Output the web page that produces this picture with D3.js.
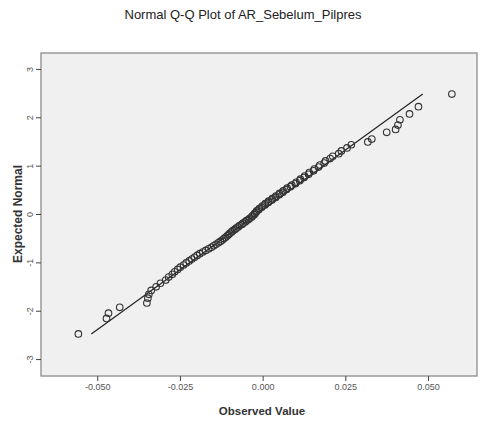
<!DOCTYPE html>
<html>
<head>
<meta charset="utf-8">
<script src="https://cdn.jsdelivr.net/npm/d3@7"></script>
<style>
  body { margin: 0; background: #fff; }
  svg { display: block; font-family: Arial, "Liberation Sans", sans-serif; }
</style>
</head>
<body>
<div id="chart"></div>
<script>
const observed = [
  -0.0557, -0.0472, -0.0466, -0.0432, -0.0350, -0.0347, -0.0344, -0.0337,
  -0.0322, -0.0309, -0.0293, -0.0284, -0.0273, -0.0266, -0.0257, -0.0249,
  -0.0239, -0.0231, -0.0222, -0.0214, -0.0206, -0.0198, -0.0190, -0.0181,
  -0.0172, -0.0163, -0.0155, -0.0148, -0.0141, -0.0134, -0.0128, -0.0122,
  -0.0117, -0.0112, -0.0107, -0.0103, -0.0099, -0.0094, -0.0090, -0.0084,
  -0.0080, -0.0074, -0.0070, -0.0063, -0.0059, -0.0053, -0.0049, -0.0043,
  -0.0039, -0.0033, -0.0031, -0.0026, -0.0024, -0.0020, -0.0018, -0.0012,
  -0.0010, -0.0003, -0.0001, 0.0007, 0.0008, 0.0017, 0.0018, 0.0028,
  0.0029, 0.0039, 0.0040, 0.0050, 0.0051, 0.0061, 0.0062, 0.0072,
  0.0074, 0.0084, 0.0088, 0.0099, 0.0101, 0.0112, 0.0114, 0.0125,
  0.0127, 0.0139, 0.0141, 0.0154, 0.0156, 0.0169, 0.0173, 0.0186,
  0.0190, 0.0204, 0.0212, 0.0230, 0.0238, 0.0255, 0.0268,
  0.0318, 0.0330, 0.0375, 0.0402, 0.0409, 0.0415, 0.0444, 0.0471, 0.0572
]
const expected = [
  -2.48, -2.16, -2.05, -1.93, -1.84, -1.74, -1.66, -1.58,
  -1.505, -1.432, -1.366, -1.304, -1.248, -1.195, -1.146, -1.099,
  -1.054, -1.012, -0.971, -0.931, -0.894, -0.857, -0.821, -0.786,
  -0.753, -0.720, -0.688, -0.657, -0.626, -0.596, -0.566, -0.537,
  -0.508, -0.480, -0.452, -0.425, -0.398, -0.371, -0.344, -0.318,
  -0.292, -0.266, -0.240, -0.215, -0.189, -0.164, -0.138, -0.113,
  -0.088, -0.063, -0.038, -0.013, 0.013, 0.038, 0.063, 0.088,
  0.113, 0.138, 0.164, 0.189, 0.215, 0.240, 0.266, 0.292,
  0.318, 0.344, 0.371, 0.398, 0.425, 0.452, 0.480, 0.508,
  0.537, 0.566, 0.596, 0.626, 0.657, 0.688, 0.720, 0.753,
  0.786, 0.821, 0.857, 0.894, 0.931, 0.971, 1.012, 1.054,
  1.099, 1.146, 1.195, 1.248, 1.304, 1.366, 1.432,
  1.49, 1.55, 1.69, 1.75, 1.84, 1.95, 2.07, 2.22, 2.48
]

// reference line end points
const lineObserved = [-0.0518, 0.0484]
const lineExpected = [-2.48, 2.48]

const xTicks = [-0.05, -0.025, 0, 0.025, 0.05]
const xTickLabels = ['-0.050', '-0.025', '0.000', '0.025', '0.050']
const yTicks = [3, 2, 1, 0, -1, -2, -3]
const yTickLabels = ['3', '2', '1', '0', '-1', '-2', '-3']

const width = 482
const height = 421
const frame = { left: 41, right: 477, top: 53, bottom: 376 }

const svg = d3.select('#chart').append('svg')
  .attr('width', width)
  .attr('height', height)

// the reference is a soft, slightly blurred screenshot
const defs = svg.append('defs')
defs.append('filter').attr('id', 'soft')
  .append('feGaussianBlur').attr('stdDeviation', 0.45)

const x = d3.scaleLinear().domain([-0.0670, 0.0648]).range([frame.left, frame.right])
const y = d3.scaleLinear().domain([-3.35, 3.33]).range([frame.bottom, frame.top])

// plot area
svg.append('rect')
  .attr('x', frame.left)
  .attr('y', frame.top)
  .attr('width', frame.right - frame.left)
  .attr('height', frame.bottom - frame.top)
  .attr('fill', '#f0f0f0')
  .attr('stroke', '#8c8c8c')
  .attr('stroke-width', 1.3)

// title
svg.append('text')
  .attr('x', 243)
  .attr('y', 19)
  .attr('text-anchor', 'middle')
  .style('font-size', '13px')
  .attr('fill', '#222')
  .text('Normal Q-Q Plot of AR_Sebelum_Pilpres')

// x axis
const xAxis = svg.append('g')
  .attr('transform', `translate(0,${frame.bottom})`)
  .call(d3.axisBottom(x)
    .tickValues(xTicks)
    .tickFormat((d, i) => xTickLabels[i])
    .tickSize(5)
    .tickSizeOuter(0))
xAxis.select('.domain').remove()
xAxis.selectAll('line').attr('stroke', '#444')
xAxis.selectAll('text')
  .attr('y', 8)
  .style('font-size', '9px')
  .style('font-family', 'Arial, "Liberation Sans", sans-serif')
  .attr('fill', '#555')

// y axis, labels turned on their side
const yAxis = svg.append('g')
  .attr('transform', `translate(${frame.left},0)`)
  .call(d3.axisLeft(y)
    .tickValues(yTicks)
    .tickFormat((d, i) => yTickLabels[i])
    .tickSize(5)
    .tickSizeOuter(0))
yAxis.select('.domain').remove()
yAxis.selectAll('line').attr('stroke', '#444')
yAxis.selectAll('text')
  .attr('transform', 'rotate(-90)')
  .attr('x', 0)
  .attr('y', -8)
  .attr('dy', 0)
  .attr('text-anchor', 'middle')
  .style('font-size', '9px')
  .style('font-family', 'Arial, "Liberation Sans", sans-serif')
  .attr('fill', '#555')

// axis titles
svg.append('text')
  .attr('x', 262)
  .attr('y', 415)
  .attr('text-anchor', 'middle')
  .style('font-size', '11.5px')
  .style('font-weight', 'bold')
  .attr('fill', '#333')
  .text('Observed Value')

svg.append('text')
  .attr('transform', 'translate(22,214) rotate(-90)')
  .attr('text-anchor', 'middle')
  .style('font-size', '12px')
  .style('font-weight', 'bold')
  .attr('fill', '#333')
  .text('Expected Normal')

const marks = svg.append('g').attr('filter', 'url(#soft)')

// reference line
marks.append('line')
  .attr('x1', x(lineObserved[0]))
  .attr('y1', y(lineExpected[0]))
  .attr('x2', x(lineObserved[1]))
  .attr('y2', y(lineExpected[1]))
  .attr('stroke', '#222')
  .attr('stroke-width', 1.2)

// points
marks.append('g').selectAll('circle')
  .data(observed)
  .join('circle')
  .attr('cx', d => x(d))
  .attr('cy', (d, i) => y(expected[i]))
  .attr('r', 3.3)
  .attr('fill', 'none')
  .attr('stroke', '#333')
  .attr('stroke-width', 1.1)
</script>
</body>
</html>
